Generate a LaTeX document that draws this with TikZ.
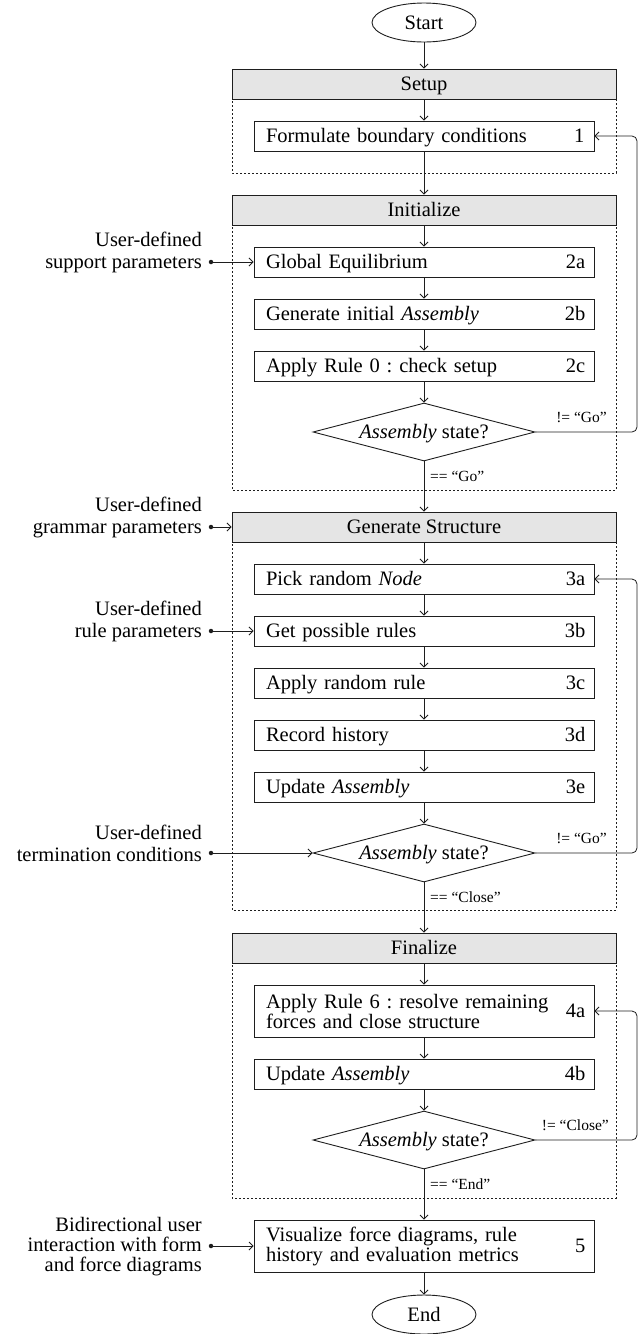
\documentclass[tikz,border=0pt]{standalone}
\usepackage{fontspec}
\setmainfont{Liberation Serif}
\usetikzlibrary{shapes.geometric,arrows.meta}
\definecolor{hdrgray}{RGB}{229,229,229}
\definecolor{ln}{RGB}{30,30,30}
\frenchspacing
\begin{document}
\frenchspacing
\begin{tikzpicture}[x=1pt,y=-1pt,
  every node/.style={font=\fontsize{20.5}{21}\selectfont, text=black},
  one/.style={text height=13.6pt, text depth=0pt},
  pbox/.style={draw=ln, line width=0.9pt, minimum width=340pt, minimum height=30pt,
    text width=316pt, inner xsep=12pt, inner ysep=0pt, align=left},
  hdr/.style={draw=ln, line width=0.9pt, fill=hdrgray, minimum width=384pt,
    minimum height=30pt, inner sep=0pt, one},
  grp/.style={draw=ln, line width=0.7pt, dash pattern=on 2pt off 2pt},
  dec/.style={diamond, draw=ln, line width=0.9pt, aspect=3.83, minimum width=222pt,
    minimum height=58pt, inner sep=0pt, one},
  term/.style={ellipse, draw=ln, line width=0.9pt, minimum width=104pt,
    minimum height=39pt, inner sep=0pt, one},
  arr/.style={draw=ln, line width=0.8pt, -{Straight Barb[length=4pt,width=8pt]}},
  num/.style={anchor=east, inner sep=0pt, one},
  lbl/.style={font=\fontsize{15.5}{17}\selectfont, inner sep=0pt},
  side/.style={align=right, anchor=east, inner sep=0pt, font=\fontsize{20.5}{22}\selectfont},
  dotstart/.style={circle, fill=ln, inner sep=0pt, minimum size=4.5pt}]
\useasboundingbox (0,0) rectangle (640,1334);
\coordinate (rr) at (637,0);

% group frames
\draw[grp] (232,69) rectangle (616,173);
\draw[grp] (232,195) rectangle (616,490);
\draw[grp] (232,512) rectangle (616,910);
\draw[grp] (232,933) rectangle (616,1198);

\node[term] (start) at (424,22.5) {Start};

\node[hdr] (setuph) at (424,84) {Setup};
\node[pbox, one] (b1) at (424,136) {Formulate boundary conditions};
\node[num] at ([xshift=-10pt]b1.east) {1};

\node[hdr] (inith) at (424,210) {Initialize};
\node[pbox, one] (b2a) at (424,262) {Global Equilibrium};
\node[num] at ([xshift=-9pt]b2a.east) {2a};
\node[pbox, one] (b2b) at (424,314) {Generate initial \textit{Assembly}};
\node[num] at ([xshift=-9pt]b2b.east) {2b};
\node[pbox, one] (b2c) at (424,366) {Apply Rule 0 : check setup};
\node[num] at ([xshift=-9pt]b2c.east) {2c};
\node[dec] (d1) at (424,432) {\textit{Assembly} state?};

\node[hdr] (genh) at (424,527) {Generate Structure};
\node[pbox, one] (b3a) at (424,579) {Pick random \textit{Node}};
\node[num] at ([xshift=-9pt]b3a.east) {3a};
\node[pbox, one] (b3b) at (424,631) {Get possible rules};
\node[num] at ([xshift=-9pt]b3b.east) {3b};
\node[pbox, one] (b3c) at (424,683) {Apply random rule};
\node[num] at ([xshift=-9pt]b3c.east) {3c};
\node[pbox, one] (b3d) at (424,735) {Record history};
\node[num] at ([xshift=-9pt]b3d.east) {3d};
\node[pbox, one] (b3e) at (424,787) {Update \textit{Assembly}};
\node[num] at ([xshift=-9pt]b3e.east) {3e};
\node[dec] (d2) at (424,853) {\textit{Assembly} state?};

\node[hdr] (finh) at (424,948) {Finalize};
\node[pbox, minimum height=52pt, font=\fontsize{20.5}{20}\selectfont] (b4a) at (424,1011)
  {Apply Rule 6 : resolve remaining\\forces and close structure};
\node[num] at ([xshift=-9pt]b4a.east) {4a};
\node[pbox, one] (b4b) at (424,1074) {Update \textit{Assembly}};
\node[num] at ([xshift=-9pt]b4b.east) {4b};
\node[dec] (d3) at (424,1140) {\textit{Assembly} state?};

\node[pbox, minimum height=52pt, font=\fontsize{20.5}{20}\selectfont] (b5) at (424,1246)
  {Visualize force diagrams, rule\\history and evaluation metrics};
\node[num] at ([xshift=-9pt]b5.east) {5};

\node[term] (end) at (424,1314.5) {End};

% main flow
\draw[arr] (start) -- (setuph);
\draw[arr] (setuph) -- (b1);
\draw[arr] (b1) -- (inith);
\draw[arr] (inith) -- (b2a);
\draw[arr] (b2a) -- (b2b);
\draw[arr] (b2b) -- (b2c);
\draw[arr] (b2c) -- (d1);
\draw[arr] (d1) -- (genh);
\draw[arr] (genh) -- (b3a);
\draw[arr] (b3a) -- (b3b);
\draw[arr] (b3b) -- (b3c);
\draw[arr] (b3c) -- (b3d);
\draw[arr] (b3d) -- (b3e);
\draw[arr] (b3e) -- (d2);
\draw[arr] (d2) -- (finh);
\draw[arr] (finh) -- (b4a);
\draw[arr] (b4a) -- (b4b);
\draw[arr] (b4b) -- (d3);
\draw[arr] (d3) -- (b5);
\draw[arr] (b5) -- (end);

% loops
\draw[arr, rounded corners=5pt] (d1.east) -- (d1.east -| rr) |- (b1.east);
\draw[arr, rounded corners=5pt] (d2.east) -- (d2.east -| rr) |- (b3a.east);
\draw[arr, rounded corners=5pt] (d3.east) -- (d3.east -| rr) |- (b4a.east);

% condition labels
\node[lbl, anchor=south east] at (607,423) {!= ``Go''};
\node[lbl, anchor=west] at (430,476) {== ``Go''};
\node[lbl, anchor=south east] at (607,844) {!= ``Go''};
\node[lbl, anchor=west] at (430,897) {== ``Close''};
\node[lbl, anchor=south east] at (609,1131) {!= ``Close''};
\node[lbl, anchor=west] at (430,1184) {== ``End''};

% side inputs
\node[side] (s1) at (202,252) {User-defined\\support parameters};
\node[dotstart] (p1) at (211,262) {};
\draw[arr] (p1) -- (b2a.west);

\node[side] (s2) at (202,517) {User-defined\\grammar parameters};
\node[dotstart] (p2) at (211,527) {};
\draw[arr] (p2) -- (genh.west);

\node[side] (s3) at (202,621) {User-defined\\rule parameters};
\node[dotstart] (p3) at (211,631) {};
\draw[arr] (p3) -- (b3b.west);

\node[side] (s4) at (202,843) {User-defined\\termination conditions};
\node[dotstart] (p4) at (211,853) {};
\draw[arr] (p4) -- (d2.west);

\node[side, font=\fontsize{20.5}{20}\selectfont] (s5) at (202,1247) {Bidirectional user\\interaction with form\\and force diagrams};
\node[dotstart] (p5) at (211,1246) {};
\draw[arr] (p5) -- (b5.west);
\end{tikzpicture}
\end{document}
